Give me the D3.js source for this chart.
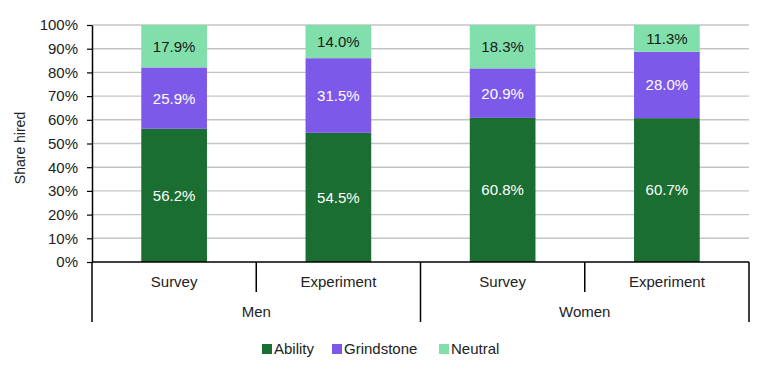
<!DOCTYPE html>
<html><head><meta charset="utf-8">
<script src="https://cdn.jsdelivr.net/npm/d3@7"></script>
<style>body{margin:0;background:#fff}svg{display:block;font-family:"Liberation Sans",Arial,sans-serif}</style>
</head><body><svg id="c" width="773" height="372"></svg>
<script>
const groups = ["Men", "Women"];
const methods = ["Survey", "Experiment"];
const categories = ["Men|Survey", "Men|Experiment", "Women|Survey", "Women|Experiment"];
const seriesNames = ["Ability", "Grindstone", "Neutral"];
const ability = [56.2, 54.5, 60.8, 60.7];
const grindstone = [25.9, 31.5, 20.9, 28.0];
const neutral = [17.9, 14.0, 18.3, 11.3];
const yTicks = [0,10,20,30,40,50,60,70,80,90,100];
const colors = {Ability:"#1b6e31", Grindstone:"#7d59ea", Neutral:"#80dfab"};
const labelColors = {Ability:"#ffffff", Grindstone:"#ffffff", Neutral:"#1a1a1a"};

const FS = 15;
const svg = d3.select("#c");
const L = 92, R = 749, T = 25, B = 262;
const x = d3.scaleBand().domain(categories).range([L, R]).paddingInner(0).paddingOuter(0);
const y = d3.scaleLinear().domain([0,100]).range([B, T]);
const barW = x.bandwidth()*0.40;

// gridlines
svg.append("g").selectAll("line").data(yTicks.filter(d=>d>0)).join("line")
  .attr("x1", L).attr("x2", R).attr("y1", d=>y(d)).attr("y2", d=>y(d))
  .attr("stroke", "#c4c4c4").attr("stroke-width", 1.4);

// data table
const rows = categories.map((c,i)=>({cat:c, Ability:ability[i], Grindstone:grindstone[i], Neutral:neutral[i]}));
const stack = d3.stack().keys(seriesNames)(rows);
const gBars = svg.append("g");
stack.forEach(s=>{
  const key = s.key;
  gBars.selectAll(null).data(s).join("rect")
    .attr("x", d=>x(d.data.cat)+x.bandwidth()/2-barW/2)
    .attr("width", barW)
    .attr("y", d=>y(d[1]))
    .attr("height", d=>y(d[0])-y(d[1]))
    .attr("fill", colors[key]);
  gBars.selectAll(null).data(s).join("text")
    .attr("x", d=>x(d.data.cat)+x.bandwidth()/2)
    .attr("y", d=>(y(d[0])+y(d[1]))/2)
    .attr("dy", "0.36em")
    .attr("text-anchor", "middle")
    .attr("font-size", FS)
    .attr("fill", labelColors[key])
    .text(d=>(d[1]-d[0]).toFixed(1)+"%");
});

// y axis
const yAxis = d3.axisLeft(y).tickValues(yTicks).tickFormat(d=>d+"%").tickSize(5).tickSizeOuter(0);
const ga = svg.append("g").attr("transform", `translate(${L},0)`).call(yAxis);
ga.select(".domain").attr("stroke", "#000").attr("stroke-width", 1.5);
ga.selectAll(".tick line").attr("stroke", "#000").attr("stroke-width", 1.2);
ga.selectAll(".tick text").attr("font-size", FS).attr("fill", "#222").attr("x", -14)
  .attr("font-family", "Liberation Sans, Arial, sans-serif");

// axis line extends down
svg.append("line").attr("x1", L).attr("x2", L).attr("y1", B).attr("y2", 322).attr("stroke", "#000").attr("stroke-width", 1.5);
// baseline
svg.append("line").attr("x1", L).attr("x2", R).attr("y1", B).attr("y2", B).attr("stroke", "#000").attr("stroke-width", 1.5);

// category dividers
categories.forEach((c,i)=>{
  const xr = x(c)+x.bandwidth();
  const isGroupEnd = (i%2===1);
  svg.append("line").attr("x1", xr).attr("x2", xr).attr("y1", B).attr("y2", isGroupEnd?322:292)
    .attr("stroke","#000").attr("stroke-width",1.5);
  svg.append("text").attr("x", x(c)+x.bandwidth()/2).attr("y", 282).attr("dy","0.36em")
    .attr("text-anchor","middle").attr("font-size",FS).attr("fill","#222").text(c.split("|")[1]);
});
groups.forEach(g=>{
  const cs = categories.filter(c=>c.startsWith(g+"|"));
  const cx = (x(cs[0]) + x(cs[cs.length-1]) + x.bandwidth())/2;
  svg.append("text").attr("x", cx).attr("y", 312).attr("dy","0.36em")
    .attr("text-anchor","middle").attr("font-size",FS).attr("fill","#222").text(g);
});

// y title
svg.append("text").attr("transform","translate(20,148) rotate(-90)").attr("text-anchor","middle")
  .attr("dy","0.36em").attr("font-size",14).attr("fill","#222").text("Share hired");

// legend
const legX = [262, 332, 439];
const leg = svg.append("g");
seriesNames.forEach((s,i)=>{
  leg.append("rect").attr("x", legX[i]).attr("y", 344).attr("width", 10).attr("height", 10).attr("fill", colors[s]);
  leg.append("text").attr("x", legX[i]+12).attr("y", 349).attr("dy","0.36em")
    .attr("font-size",FS).attr("fill","#222").text(s);
});
</script></body></html>
